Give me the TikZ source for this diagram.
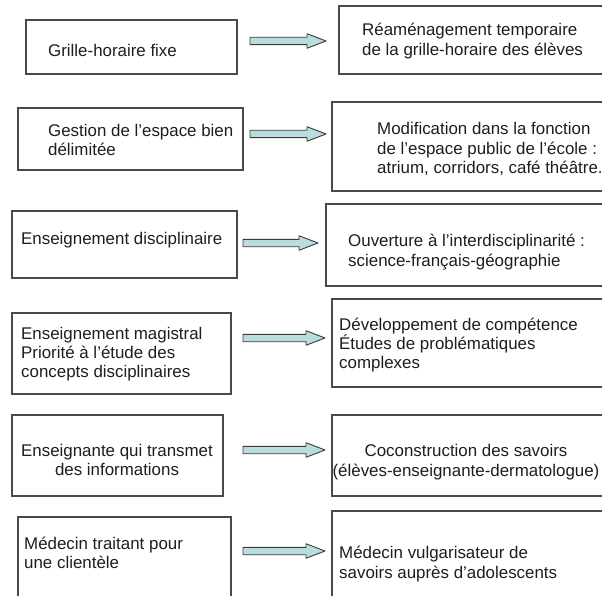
\documentclass[tikz,border=0pt]{standalone}
\usepackage{fontspec}
\setmainfont{Liberation Sans}
\usetikzlibrary{calc}
\definecolor{boxline}{HTML}{4A4A4A}
\definecolor{arrowfill}{HTML}{B9DCDF}
\definecolor{arrowline}{HTML}{3A3A3A}
\definecolor{txt}{HTML}{1E1E1E}
\tikzset{
  box/.style={draw=boxline, line width=1.2pt, fill=white, inner sep=0pt, rectangle},
  txtl/.style={inner sep=0pt, align=left, anchor=west, text=txt, font=\fontsize{16.9}{19.3}\selectfont},
  txtc/.style={inner sep=0pt, align=center, anchor=center, text=txt, font=\fontsize{16.9}{19.3}\selectfont},
  fatarrow/.style={draw=arrowline, line width=0.9pt, fill=arrowfill, line join=round}
}
\newcommand\FatArrow[2]{%
  \draw[fatarrow] ($(#1)+(0,-3.7)$) -- ($(#2)+(-19,-3.7)$) -- ($(#2)+(-19,-7.3)$) -- (#2)
    -- ($(#2)+(-19,7.3)$) -- ($(#2)+(-19,3.7)$) -- ($(#1)+(0,3.7)$) -- cycle;}
\begin{document}
\begin{tikzpicture}[x=1pt,y=-1pt]
\useasboundingbox (0,0) rectangle (602,596);
\fill[white] (0,0) rectangle (602,596);
\clip (0,0) rectangle (602,596);
% left boxes
\node[box, minimum width=211, minimum height=54] (L1) at (131.5,47) {};
\node[box, minimum width=225, minimum height=62] (L2) at (130.5,139) {};
\node[box, minimum width=225, minimum height=67] (L3) at (124.5,244.5) {};
\node[box, minimum width=219, minimum height=81] (L4) at (121.5,353.5) {};
\node[box, minimum width=211, minimum height=81] (L5) at (117.5,455.5) {};
\node[box, minimum width=213, minimum height=93] (L6) at (124.5,563.5) {};
% right boxes
\node[box, minimum width=272, minimum height=68] (R1) at (475,40) {};
\node[box, minimum width=279, minimum height=89] (R2) at (471.5,146.5) {};
\node[box, minimum width=285, minimum height=82] (R3) at (468.5,245) {};
\node[box, minimum width=279, minimum height=88] (R4) at (471.5,343) {};
\node[box, minimum width=279, minimum height=81] (R5) at (471.5,455.5) {};
\node[box, minimum width=279, minimum height=99] (R6) at (471.5,560.5) {};
% texts
\node[txtl] (T1) at (48,50) {Grille-horaire fixe};
\node[txtl] (T2) at (48,140) {Gestion de l’espace bien\\délimitée};
\node[txtl] (T3) at (21,240) {Enseignement disciplinaire};
\node[txtl] (T4) at (21,354) {Enseignement magistral\\Priorité à l’étude des\\concepts disciplinaires};
\node[txtc] (T5) at (117,460) {Enseignante qui transmet\\des informations};
\node[txtl] (T6) at (24,553) {Médecin traitant pour\\une clientèle};
\node[txtl] (U1) at (362,41) {Réaménagement temporaire\\de la grille-horaire des élèves};
\node[txtl] (U2) at (377,149) {Modification dans la fonction\\de l’espace public de l’école :\\atrium, corridors, café théâtre.};
\node[txtl] (U3) at (348,252) {Ouverture à l’interdisciplinarité :\\science-français-géographie};
\node[txtl] (U4) at (339,345) {Développement de compétence\\Études de problématiques\\complexes};
\node[txtc] (U5) at (466,462) {Coconstruction des savoirs\\(élèves-enseignante-dermatologue)};
\node[txtl] (U6) at (339,564) {Médecin vulgarisateur de\\savoirs auprès d’adolescents};
% arrow end points
\coordinate (a1s) at (250,41);  \coordinate (a1e) at (326,41);
\coordinate (a2s) at (250,134); \coordinate (a2e) at (326,134);
\coordinate (a3s) at (243,243); \coordinate (a3e) at (318,243);
\coordinate (a4s) at (243,338); \coordinate (a4e) at (325,338);
\coordinate (a5s) at (243,450); \coordinate (a5e) at (325,450);
\coordinate (a6s) at (243,551); \coordinate (a6e) at (325,551);
\FatArrow{a1s}{a1e}
\FatArrow{a2s}{a2e}
\FatArrow{a3s}{a3e}
\FatArrow{a4s}{a4e}
\FatArrow{a5s}{a5e}
\FatArrow{a6s}{a6e}
\end{tikzpicture}
\end{document}
